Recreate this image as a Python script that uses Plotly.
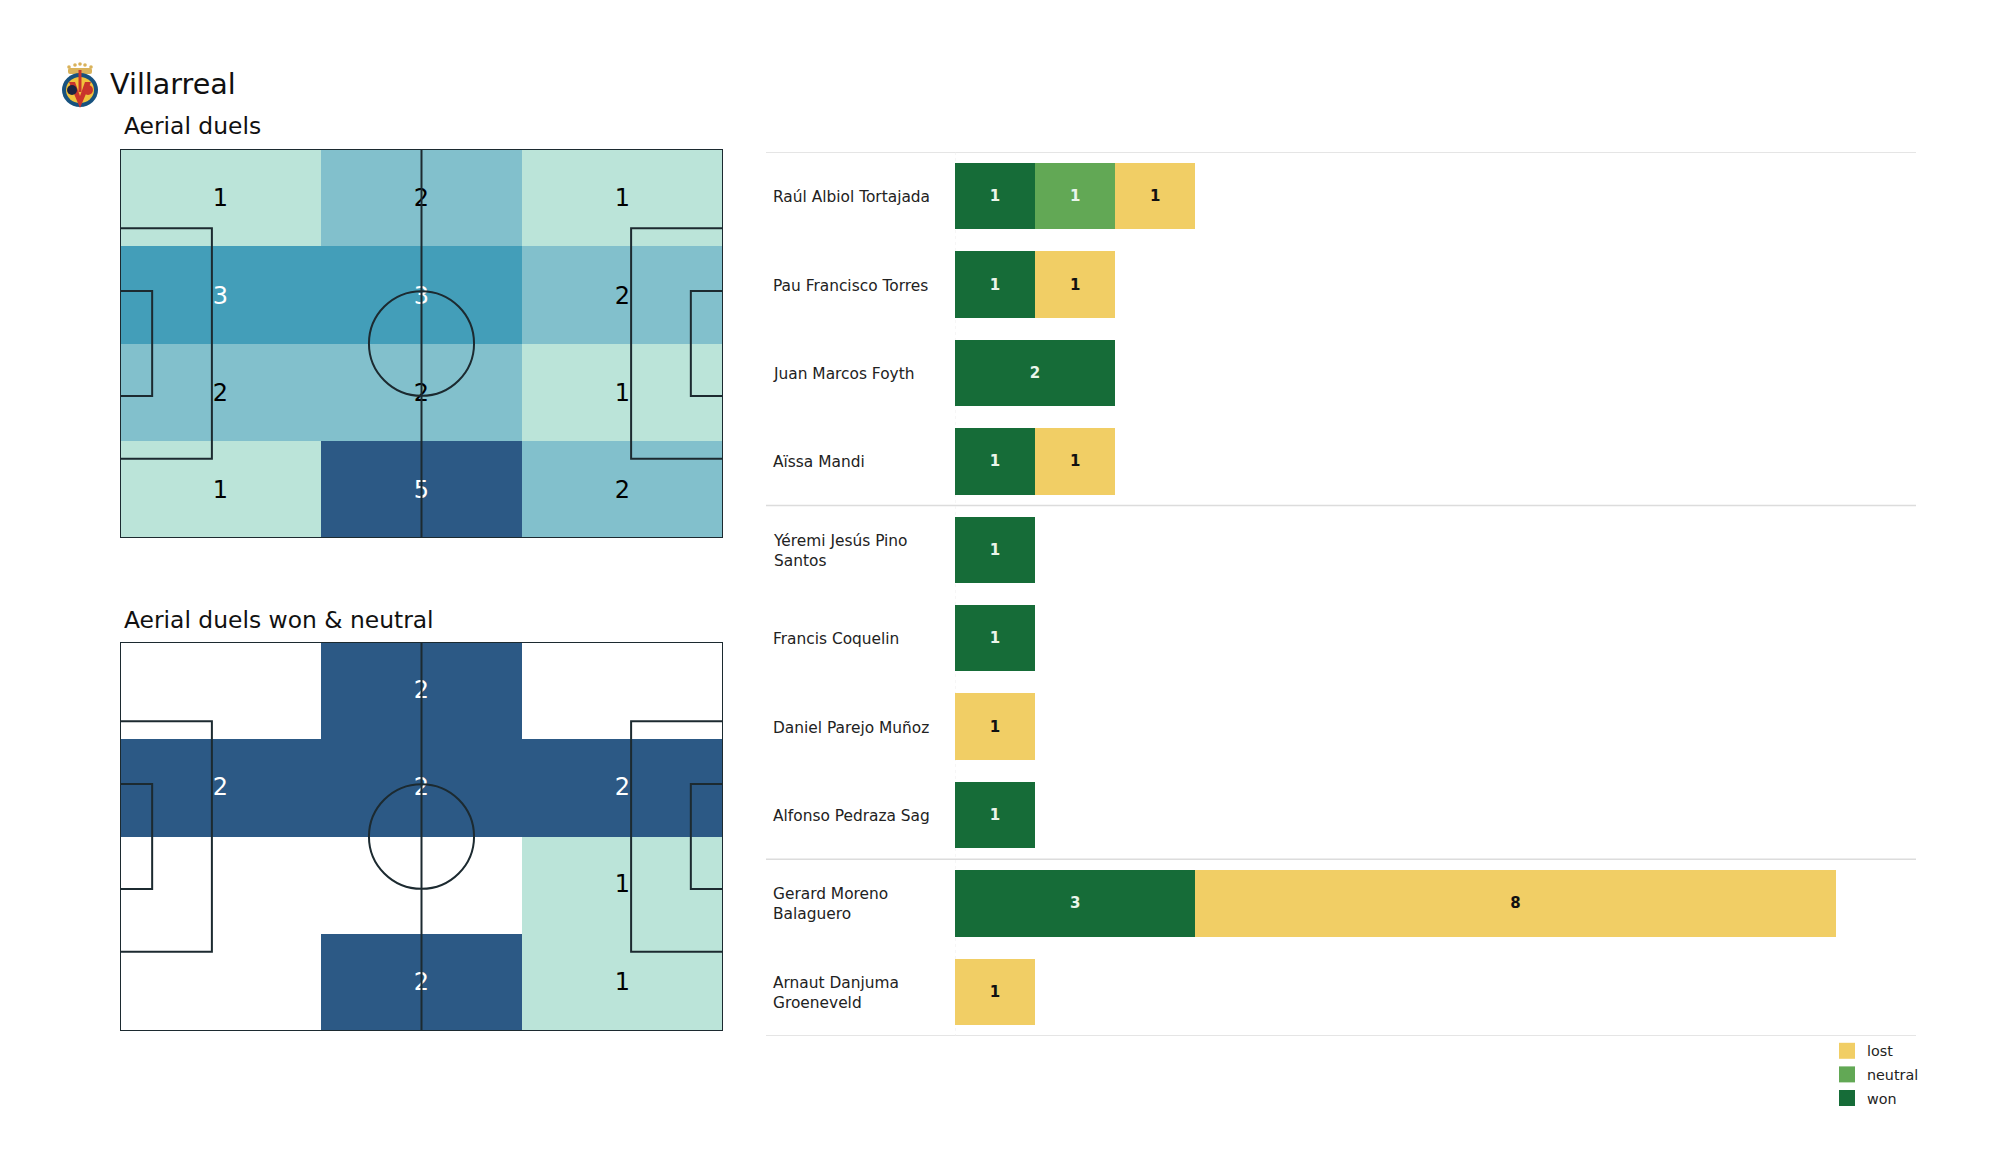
import base64
import plotly.graph_objects as go

# ---- data ----
team = "Villarreal"
pitch_titles = ["Aerial duels", "Aerial duels won & neutral"]
x_edges = [0, 35, 70, 105]
y_edges = [0, 17, 34, 51, 68]
all_duels = [[1, 2, 1], [3, 3, 2], [2, 2, 1], [1, 5, 2]]
won_neutral = [[None, 2, None], [2, 2, 2], [None, None, 1], [None, 2, 1]]

players = ["Raúl Albiol Tortajada", "Pau Francisco Torres", "Juan Marcos Foyth", "Aïssa Mandi",
           "Yéremi Jesús Pino<br>Santos", "Francis Coquelin", "Daniel Parejo Muñoz",
           "Alfonso Pedraza Sag", "Gerard Moreno<br>Balaguero", "Arnaut Danjuma<br>Groeneveld"]
won = [1, 1, 2, 1, 1, 1, None, 1, 3, None]
neutral = [1, None, None, None, None, None, None, None, None, None]
lost = [1, 1, None, 1, None, None, 1, None, 8, 1]

# ---- style ----
W, H = 2000, 1175
FONT = "DejaVu Sans"
INK = "#1c2a30"
C_WON, C_NEU, C_LOST = "#166c38", "#62a855", "#f1ce65"
SCALE_ALL = [[0, "#bbe4d9"], [0.25, "#82c0cc"], [0.5, "#439eb9"], [1, "#2c5985"]]
SCALE_WN = [[0, "#bbe4d9"], [1, "#2c5985"]]


def dom_x(a, b):
    return [a / W, b / W]


def dom_y(top, bottom):
    return [1 - bottom / H, 1 - top / H]


fig = go.Figure()


def add_pitch(z, scale, zmin, zmax, xa, ya, dark_from, text_dy):
    xc = [(x_edges[i] + x_edges[i + 1]) / 2 for i in range(3)]
    yc = [(y_edges[i] + y_edges[i + 1]) / 2 for i in range(4)]
    fig.add_trace(go.Heatmap(x=x_edges, y=y_edges, z=z, colorscale=scale, zmin=zmin, zmax=zmax,
                             showscale=False, xaxis=xa, yaxis=ya, xgap=0, ygap=0))
    xs, ys, ts, cs = [], [], [], []
    for r, row in enumerate(z):
        for c, v in enumerate(row):
            if v is not None:
                xs.append(xc[c]); ys.append(yc[r] + text_dy); ts.append(str(v))
                cs.append("#ffffff" if v >= dark_from else "#000000")
    fig.add_trace(go.Scatter(x=xs, y=ys, text=ts, mode="text", showlegend=False, hoverinfo="skip",
                             textfont=dict(family=FONT, size=24, color=cs), xaxis=xa, yaxis=ya))
    line = dict(color=INK, width=2)
    rects = [(0, 0, 105, 68), (0, 13.84, 16, 54.16), (105, 13.84, 89, 54.16),
             (0, 24.84, 5.6, 43.16), (105, 24.84, 99.4, 43.16)]
    for x0, y0, x1, y1 in rects:
        fig.add_shape(type="rect", xref=xa, yref=ya, x0=x0, y0=y0, x1=x1, y1=y1, line=line, layer="above")
    fig.add_shape(type="line", xref=xa, yref=ya, x0=52.5, x1=52.5, y0=0, y1=68, line=line, layer="above")
    fig.add_shape(type="circle", xref=xa, yref=ya, x0=43.35, x1=61.65, y0=24.85, y1=43.15, line=line, layer="above")


add_pitch(all_duels, SCALE_ALL, 1, 5, "x", "y", 3, 0.5)
add_pitch(won_neutral, SCALE_WN, 1, 2, "x2", "y2", 2, 0.2)

# ---- stacked bars ----
idx = list(range(len(players)))
series = [("won", won, C_WON, "#eaf5ea"), ("neutral", neutral, C_NEU, "#eaf5ea"), ("lost", lost, C_LOST, "#111111")]
for name, vals, col, tcol in series:
    fig.add_trace(go.Bar(y=idx, x=vals, name=name, orientation="h", width=0.75, marker=dict(color=col, line=dict(width=0)),
                         text=[None if v is None else f"<b>{v}</b>" for v in vals], textposition="inside",
                         insidetextanchor="middle", textangle=0, constraintext="none", showlegend=False,
                         textfont=dict(family=FONT, size=15, color=tcol), xaxis="x3", yaxis="y3"))
# legend keys: square swatches, lost first as in the reference
for name, vals, col, tcol in reversed(series):
    fig.add_trace(go.Scatter(x=[None], y=[None], name=name, mode="markers", legendgroup=name, showlegend=True,
                             marker=dict(symbol="square", size=16, color=col), xaxis="x3", yaxis="y3"))

for i, p in enumerate(players):
    fig.add_annotation(xref="paper", x=771 / W, yref="y3", y=i, yshift=-1, text=p, showarrow=False, xanchor="left", yanchor="middle",
                       align="left", font=dict(family=FONT, size=15.4, color="#222222"))

for yv in [-0.5, 3.5, 7.5, 9.5]:
    fig.add_shape(type="line", xref="paper", x0=766 / W, x1=1916 / W, yref="y3", y0=yv, y1=yv,
                  line=dict(color="#dcdcdc", width=1.5), layer="below")
fig.add_shape(type="line", xref="x3", x0=0, x1=0, yref="y3", y0=-0.5, y1=9.5,
              line=dict(color="#eeeeee", width=1, dash="dot"), layer="below")

# ---- crest ----
svg = """<svg xmlns='http://www.w3.org/2000/svg' width='76' height='96' viewBox='0 0 38 48'>
<g fill='#d9b25a'><circle cx='8' cy='5' r='1.8'/><circle cx='14' cy='3' r='1.8'/><circle cx='19' cy='2' r='1.8'/><circle cx='24' cy='3' r='1.8'/><circle cx='30' cy='5' r='1.8'/><rect x='7' y='6' width='24' height='6' rx='2'/></g>
<ellipse cx='19' cy='28' rx='18' ry='17' fill='#17527f'/>
<ellipse cx='19' cy='28' rx='14' ry='13' fill='#f0c23c'/>
<path d='M8 20 L19 46 L30 20 L24 20 L19 34 L14 20 Z' fill='#c9342c'/>
<circle cx='11' cy='28' r='5' fill='#1b2340'/><circle cx='27' cy='28' r='5' fill='#c9342c'/>
<rect x='17.5' y='8' width='3' height='22' fill='#c9342c'/></svg>"""
logo = "data:image/svg+xml;base64," + base64.b64encode(svg.encode()).decode()
fig.add_layout_image(dict(source=logo, xref="paper", yref="paper", x=61 / W, y=1 - 62 / H, sizex=38 / W, sizey=48 / H,
                          xanchor="left", yanchor="top", sizing="stretch", layer="above"))

# ---- titles ----
def label(text, x, y, size):
    fig.add_annotation(xref="paper", yref="paper", x=x / W, y=1 - y / H, text=text, showarrow=False, xanchor="left",
                       yanchor="middle", font=dict(family=FONT, size=size, color="#111111"))


label(team, 107.5, 84, 28.6)
label(pitch_titles[0], 122, 126, 23.4)
label(pitch_titles[1], 122, 620, 23.4)

hidden = dict(visible=False, fixedrange=True)
fig.update_layout(
    width=W, height=H, margin=dict(l=0, r=0, t=0, b=0), paper_bgcolor="white", plot_bgcolor="white",
    barmode="stack", bargap=0.25, font=dict(family=FONT),
    xaxis=dict(domain=dom_x(120, 723), range=[0, 105], **hidden),
    yaxis=dict(domain=dom_y(149, 538), range=[68, 0], **hidden),
    xaxis2=dict(domain=dom_x(120, 723), range=[0, 105], **hidden),
    yaxis2=dict(domain=dom_y(642, 1031), range=[68, 0], **hidden),
    xaxis3=dict(domain=dom_x(955, 1916), range=[0, 12.0], **hidden),
    yaxis3=dict(domain=dom_y(152, 1036), range=[9.5, -0.5], **hidden),
    legend=dict(x=1924 / W, xanchor="right", y=1 - 1035 / H, yanchor="top", traceorder="grouped", tracegroupgap=2,
                font=dict(family=FONT, size=14.3, color="#222222"), bgcolor="rgba(0,0,0,0)", itemclick=False, itemdoubleclick=False),
    showlegend=True,
)
fig.write_html("out.html", config=dict(displayModeBar=False), post_script="document.body.style.margin='0';")
